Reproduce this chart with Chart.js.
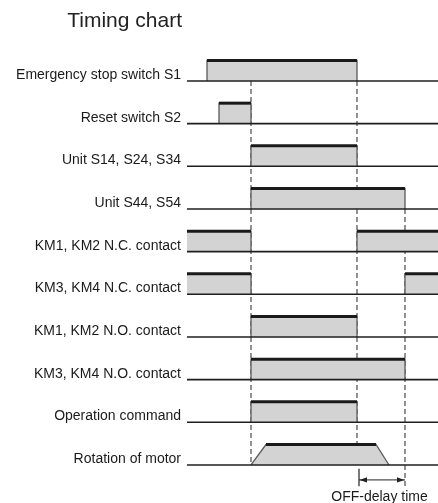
<!DOCTYPE html>
<html><head><meta charset="utf-8">
<script src="https://cdn.jsdelivr.net/npm/chart.js@4"></script>
<style>html,body{margin:0;padding:0;background:#fff;}#wrap{width:438px;height:503px;position:relative;}</style>
</head><body><div id="wrap"><canvas id="c"></canvas></div>
<script>
const titleText = 'Timing chart';
const signalNames = [
  'Emergency stop switch S1',
  'Reset switch S2',
  'Unit S14, S24, S34',
  'Unit S44, S54',
  'KM1, KM2 N.C. contact',
  'KM3, KM4 N.C. contact',
  'KM1, KM2 N.O. contact',
  'KM3, KM4 N.O. contact',
  'Operation command',
  'Rotation of motor'
];
// switching times (arbitrary time units)
const onTimes  = [[2.0], [3.2], [6.4], [6.4], [0, 17.0], [0, 21.8], [6.4], [6.4], [6.4], [6.4]];
const offTimes = [[17.0], [6.4], [17.0], [21.8], [6.4, 25.1], [6.4, 25.1], [17.0], [21.8], [17.0], [20.2]];
const rampUp   = [0, 0, 0, 0, 0, 0, 0, 0, 0, 1.5];
const rampDown = [0, 0, 0, 0, 0, 0, 0, 0, 0, 1.3];
const timeEnd = 25.1;
const highLevel = 0.48;
// dashed reference lines
const markerTimes  = [6.4, 17.0, 21.8];
const markerTop    = [9, 9, 6];
const markerBottom = [0, 0.48, -0.52];
// OFF-delay annotation
const offDelayStart = 17.2;
const offDelayEnd = 21.8;
const offDelayLabel = 'OFF-delay time';

const FONT = 'Liberation Sans, Arial, Helvetica, sans-serif';
const rowBase = i => signalNames.length - 1 - i;

const datasets = [];
signalNames.forEach((name, i) => {
  const base = rowBase(i), high = base + highLevel;
  datasets.push({data: [{x: 0, y: base}, {x: timeEnd, y: base}], borderColor: '#1f1f1f', borderWidth: 1.6, order: 1});
  onTimes[i].forEach((a, k) => {
    const b = offTimes[i][k];
    const ru = rampUp[i], rd = rampDown[i];
    const pts = [];
    if (a > 0) { pts.push({x: a, y: base}); pts.push({x: a + ru, y: high}); } else pts.push({x: a, y: high});
    if (b < timeEnd) { pts.push({x: b - rd, y: high}); pts.push({x: b, y: base}); } else pts.push({x: b, y: high});
    datasets.push({data: pts, fill: {value: base}, backgroundColor: '#d3d3d3', borderColor: '#5a5a5a', borderWidth: 1.3, order: 2});
    datasets.push({data: [{x: a + ru, y: high}, {x: b - rd, y: high}], borderColor: '#1a1a1a', borderWidth: 3, order: 0});
  });
});
markerTimes.forEach((t, k) => {
  datasets.push({data: [{x: t, y: markerTop[k]}, {x: t, y: markerBottom[k]}], borderColor: '#4a4a4a', borderWidth: 1.2, borderDash: [5, 3], order: 3});
});
datasets.push({data: [{x: offDelayStart, y: -0.35}, {x: offDelayEnd, y: -0.35}], borderColor: '#222', borderWidth: 1, order: 0});
datasets.push({data: [{x: offDelayStart, y: -0.09}, {x: offDelayStart, y: -0.5}], borderColor: '#222', borderWidth: 1.2, order: 0});

const decor = {
  id: 'decor',
  afterDatasetsDraw(chart) {
    const ctx = chart.ctx, xs = chart.scales.x, ys = chart.scales.y;
    ctx.save();
    // arrowheads
    const ay = ys.getPixelForValue(-0.35);
    const x1 = xs.getPixelForValue(offDelayStart), x2 = xs.getPixelForValue(offDelayEnd);
    ctx.fillStyle = '#222';
    ctx.beginPath(); ctx.moveTo(x1 + 0.5, ay); ctx.lineTo(x1 + 8, ay - 2.6); ctx.lineTo(x1 + 8, ay + 2.6); ctx.closePath(); ctx.fill();
    ctx.beginPath(); ctx.moveTo(x2 - 0.5, ay); ctx.lineTo(x2 - 8, ay - 2.6); ctx.lineTo(x2 - 8, ay + 2.6); ctx.closePath(); ctx.fill();
    // label
    ctx.fillStyle = '#1a1a1a';
    ctx.font = '14px ' + FONT;
    ctx.textAlign = 'center'; ctx.textBaseline = 'alphabetic';
    ctx.fillText(offDelayLabel, (xs.getPixelForValue(17.0) + x2) / 2 - 1.5, 501);
    // title
    ctx.font = '21px ' + FONT;
    ctx.fillStyle = '#222';
    ctx.textAlign = 'right';
    ctx.fillText(titleText, chart.chartArea.left - 5, 27);
    ctx.restore();
  }
};

new Chart(document.getElementById('c'), {
  type: 'line',
  data: {datasets},
  options: {
    responsive: true, maintainAspectRatio: false, animation: false, devicePixelRatio: 1,
    layout: {padding: 0},
    elements: {point: {radius: 0, hoverRadius: 0}, line: {tension: 0}},
    plugins: {legend: {display: false}, tooltip: {enabled: false}, title: {display: false}},
    events: [],
    scales: {
      x: {type: 'linear', min: 0, max: timeEnd, display: false},
      y: {
        type: 'linear', min: -0.891, max: 10.898,
        grid: {display: false, drawTicks: false}, border: {display: false},
        ticks: {autoSkip: false, padding: 6, labelOffset: -6, color: '#1a1a1a',
                font: {family: FONT, size: 14}, callback: (v, i) => signalNames[i]},
        afterBuildTicks: ax => { ax.ticks = signalNames.map((n, i) => ({value: rowBase(i)})); },
        afterFit: ax => { ax.width = 187; ax.paddingTop = 0; ax.paddingBottom = 0; }
      }
    }
  },
  plugins: [decor]
});
</script>
</body></html>
